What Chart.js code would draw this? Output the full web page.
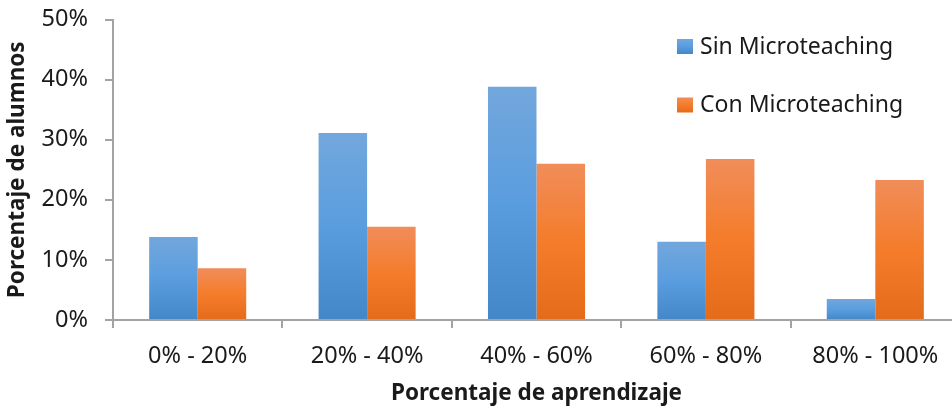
<!DOCTYPE html>
<html>
<head>
<meta charset="utf-8">
<script src="https://cdn.jsdelivr.net/npm/chart.js@4/dist/chart.umd.min.js"></script>
<style>
  html, body { margin: 0; padding: 0; overflow: hidden; background: #fff; }
  #wrap { width: 962px; height: 408px; }
</style>
</head>
<body>
<div id="wrap"><canvas id="chart" width="962" height="408"></canvas></div>
<script>
"use strict";

const categories = ["0% - 20%", "20% - 40%", "40% - 60%", "60% - 80%", "80% - 100%"];
const sinMicroteaching = [13.8, 31.1, 38.8, 13.0, 3.5];
const conMicroteaching = [8.6, 15.5, 26.0, 26.8, 23.3];
const yTicks = [0, 10, 20, 30, 40, 50];

(() => {
  const textColor = "#1a1a1a";
  const axisColor = "#a3a3a3";
  const fontFamily = "'Noto Sans', 'DejaVu Sans', sans-serif";
  const blueStops = ["#72a7dc", "#5a9ddf", "#4487c8"];
  const orangeStops = ["#f18d5a", "#f47c2a", "#e46b1a"];

  // vertical gradient per bar, like the office fill
  function barGradient(stops) {
    return (context) => {
      const { chart, raw } = context;
      const yScale = chart.scales.y;
      if (!chart.chartArea || !yScale || raw === undefined) {
        return stops[1];
      }
      const top = yScale.getPixelForValue(raw);
      const bottom = yScale.getPixelForValue(0);
      if (!isFinite(top) || Math.abs(bottom - top) < 1) {
        return stops[1];
      }
      const g = chart.ctx.createLinearGradient(0, top, 0, bottom);
      g.addColorStop(0, stops[0]);
      g.addColorStop(0.5, stops[1]);
      g.addColorStop(1, stops[2]);
      return g;
    };
  }

  const sideLegend = {
    id: "sideLegend",
    afterDraw(chart) {
      const { ctx } = chart;
      const stops = [blueStops, orangeStops];
      ctx.save();
      chart.data.datasets.forEach((ds, i) => {
        const y = 39 + i * 58.5;
        const g = ctx.createLinearGradient(0, y, 0, y + 15);
        g.addColorStop(0, stops[i][0]);
        g.addColorStop(0.5, stops[i][1]);
        g.addColorStop(1, stops[i][2]);
        ctx.fillStyle = g;
        ctx.fillRect(677, y, 16, 15);
        ctx.fillStyle = textColor;
        ctx.font = `23px ${fontFamily}`;
        ctx.textBaseline = "middle";
        ctx.textAlign = "left";
        ctx.fillText(ds.label, 700, y + 8);
      });
      ctx.restore();
    },
  };

  new Chart(document.getElementById("chart"), {
    type: "bar",
    data: {
      labels: categories,
      datasets: [
        {
          label: "Sin Microteaching",
          data: sinMicroteaching,
          backgroundColor: barGradient(blueStops),
          borderWidth: 0,
        },
        {
          label: "Con Microteaching",
          data: conMicroteaching,
          backgroundColor: barGradient(orangeStops),
          borderWidth: 0,
        },
      ],
    },
    options: {
      responsive: false,
      animation: false,
      categoryPercentage: 0.573,
      barPercentage: 1,
      layout: { padding: { top: 19.5, right: 2, left: 0, bottom: 0 } },
      plugins: {
        legend: { display: false },
        tooltip: { enabled: false },
      },
      scales: {
        x: {
          afterFit: (scale) => {
            scale.height = 88;
          },
          grid: {
            offset: true,
            drawOnChartArea: false,
            tickLength: 8,
            color: axisColor,
            lineWidth: 2,
          },
          border: { display: true, color: axisColor, width: 2 },
          ticks: {
            color: textColor,
            font: { family: fontFamily, size: 23.5 },
            padding: 14,
            maxRotation: 0,
          },
          title: {
            display: true,
            text: "Porcentaje de aprendizaje",
            color: textColor,
            font: { family: fontFamily, size: 22.5, weight: "bold" },
            padding: { top: 0, bottom: 1 },
          },
        },
        y: {
          min: 0,
          max: 50,
          afterFit: (scale) => {
            scale.width = 113;
            scale.paddingTop = 0;
            scale.paddingBottom = 0;
          },
          afterBuildTicks: (scale) => {
            scale.ticks = yTicks.map((v) => ({ value: v }));
          },
          grid: {
            drawOnChartArea: false,
            tickLength: 8,
            color: axisColor,
            lineWidth: 2,
          },
          border: { display: true, color: axisColor, width: 2 },
          ticks: {
            color: textColor,
            font: { family: fontFamily, size: 23.5 },
            padding: 17,
            callback: (v) => `${v}%`,
          },
          title: {
            display: true,
            text: "Porcentaje de alumnos",
            color: textColor,
            font: { family: fontFamily, size: 22.5, weight: "bold" },
            padding: { top: 4, bottom: 0 },
          },
        },
      },
    },
    plugins: [sideLegend],
  });
})();
</script>
</body>
</html>
